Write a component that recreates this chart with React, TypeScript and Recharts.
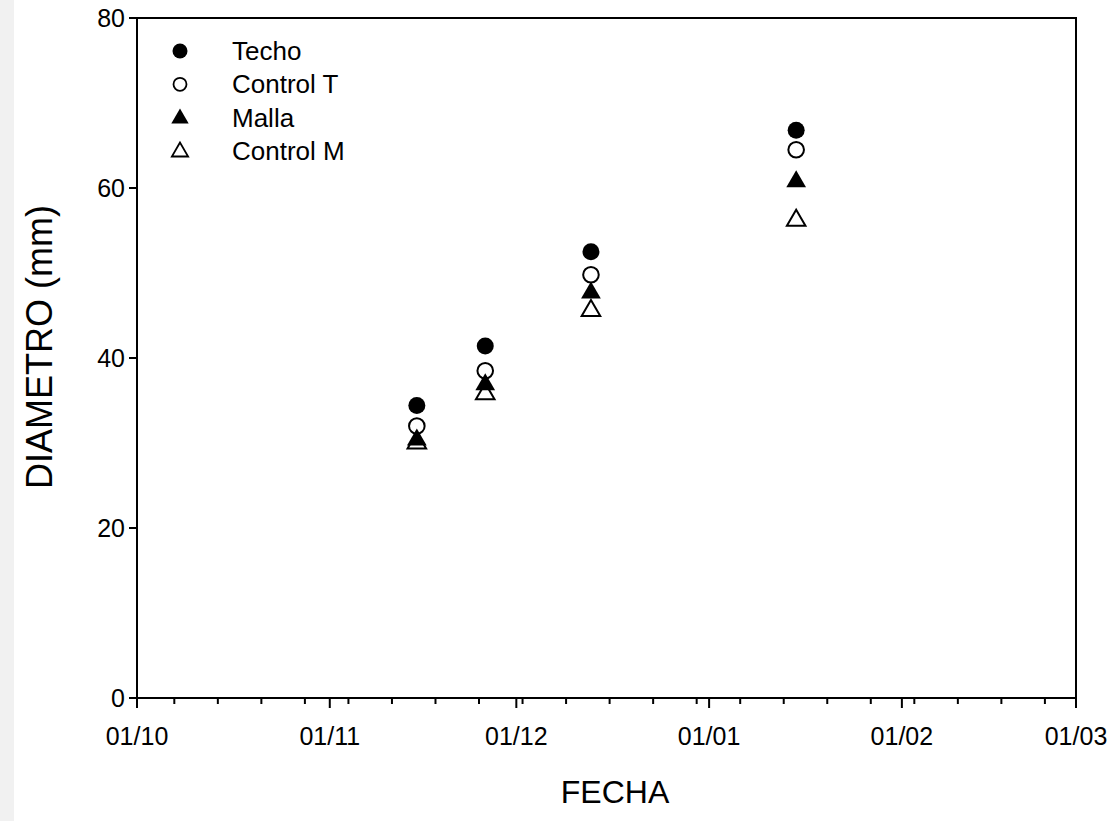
import React from "react";
import {Label, ReferenceArea, Scatter, ScatterChart, XAxis, YAxis} from "recharts";

// days counted from 01/10
const monthStarts = [0, 31, 61, 92, 123, 151];
const dateLabels = ["01/10", "01/11", "01/12", "01/01", "01/02", "01/03"];
const weekTicks = [6, 13, 20, 27, 34, 41, 48, 55, 62, 69, 76, 83, 90, 97, 104, 111, 118, 125, 132, 139, 146];
const yTicks = [0, 20, 40, 60, 80];

const sampleDays = [45, 56, 73, 106];
const techo = [34.4, 41.4, 52.5, 66.8];
const controlT = [32.0, 38.5, 49.8, 64.5];
const malla = [30.5, 37.0, 47.8, 60.9];
const controlM = [30.1, 35.9, 45.7, 56.3];

const seriesNames = ["Techo", "Control T", "Malla", "Control M"];

const FONT = "'Liberation Sans', Arial, sans-serif";

const toPoints = (vals: number[]) => sampleDays.map((d, i) => ({day: d, v: vals[i]}));

const tri = (cx: number, cy: number, h: number) =>
    `${cx},${cy - h * 0.6} ${cx - h * 0.58},${cy + h * 0.4} ${cx + h * 0.58},${cy + h * 0.4}`;

const FilledCircle = (p: any) => <circle cx={p.cx} cy={p.cy} r={8.5} fill="#000"/>;
const OpenCircle = (p: any) => <circle cx={p.cx} cy={p.cy} r={7.8} fill="none" stroke="#000" strokeWidth={2}/>;
const FilledTriangle = (p: any) => <polygon points={tri(p.cx, p.cy, 17)} fill="#000"/>;
const OpenTriangle = (p: any) => <polygon points={tri(p.cx, p.cy, 16)} fill="none" stroke="#000" strokeWidth={2}/>;

const XTick = (props: any) => {
    const {x, y, payload} = props;
    const idx = monthStarts.indexOf(payload.value);
    const major = idx >= 0;
    return (
        <g>
            <line x1={x} x2={x} y1={y} y2={y + (major ? 10 : 6)} stroke="#000" strokeWidth={2}/>
            {major && (
                <text x={x} y={y + 47} textAnchor="middle" fontSize={25} fontFamily={FONT} fill="#000">
                    {dateLabels[idx]}
                </text>
            )}
        </g>
    );
};

const YTick = (props: any) => {
    const {x, y, payload} = props;
    return (
        <text x={x} y={y + 9} textAnchor="end" fontSize={25} fontFamily={FONT} fill="#000">
            {payload.value}
        </text>
    );
};

const legendMarkers = [
    (cx: number, cy: number) => <circle cx={cx} cy={cy} r={7.5} fill="#000"/>,
    (cx: number, cy: number) => <circle cx={cx} cy={cy} r={6.5} fill="none" stroke="#000" strokeWidth={1.8}/>,
    (cx: number, cy: number) => <polygon points={tri(cx, cy, 15)} fill="#000"/>,
    (cx: number, cy: number) => <polygon points={tri(cx, cy, 14)} fill="none" stroke="#000" strokeWidth={1.8}/>,
];

export default function App() {
    const allXTicks = [...monthStarts, ...weekTicks].sort((a, b) => a - b);

    return (
        <div style={{position: "absolute", left: 0, top: 0, width: 1109, height: 821, background: "#fff"}}>
            <div style={{position: "absolute", left: 0, top: 0, width: 14, height: 821, background: "#f1f1f1"}}/>
            <ScatterChart width={1109} height={821} margin={{top: 18, right: 33, bottom: 83, left: 67}}>
                <XAxis type="number" dataKey="day" domain={[0, 151]} ticks={allXTicks} interval={0}
                       tick={<XTick/>} tickLine={false} tickSize={0} tickMargin={0} height={40}
                       axisLine={{stroke: "#000", strokeWidth: 2}}>
                    <Label content={() => (
                        <text x={615} y={803} textAnchor="middle" fontSize={32} fontFamily={FONT}
                              fill="#000">FECHA</text>
                    )}/>
                </XAxis>
                <YAxis type="number" dataKey="v" domain={[0, 80]} ticks={yTicks} interval={0} width={70}
                       tick={<YTick/>} tickSize={8} tickMargin={4}
                       tickLine={{stroke: "#000", strokeWidth: 2}}
                       axisLine={{stroke: "#000", strokeWidth: 2}}>
                    <Label content={() => (
                        <text transform="translate(52,347) rotate(-90)" textAnchor="middle"
                              fontSize={36} fontFamily={FONT} fill="#000">DIAMETRO (mm)</text>
                    )}/>
                </YAxis>
                <ReferenceArea x1={0} x2={151} y1={0} y2={80} fill="none" stroke="#000" strokeWidth={2}
                               ifOverflow="visible"/>
                <Scatter name={seriesNames[0]} data={toPoints(techo)} shape={FilledCircle} isAnimationActive={false}/>
                <Scatter name={seriesNames[1]} data={toPoints(controlT)} shape={OpenCircle} isAnimationActive={false}/>
                <Scatter name={seriesNames[2]} data={toPoints(malla)} shape={FilledTriangle} isAnimationActive={false}/>
                <Scatter name={seriesNames[3]} data={toPoints(controlM)} shape={OpenTriangle} isAnimationActive={false}/>
            </ScatterChart>
            <svg style={{position: "absolute", left: 0, top: 0}} width={420} height={180}>
                {seriesNames.map((name, i) => {
                    const cy = 51 + i * 33.3;
                    return (
                        <g key={name}>
                            {legendMarkers[i](180, cy)}
                            <text x={232} y={cy + 9} fontSize={26} fontFamily={FONT} fill="#000">{name}</text>
                        </g>
                    );
                })}
            </svg>
        </div>
    );
}
